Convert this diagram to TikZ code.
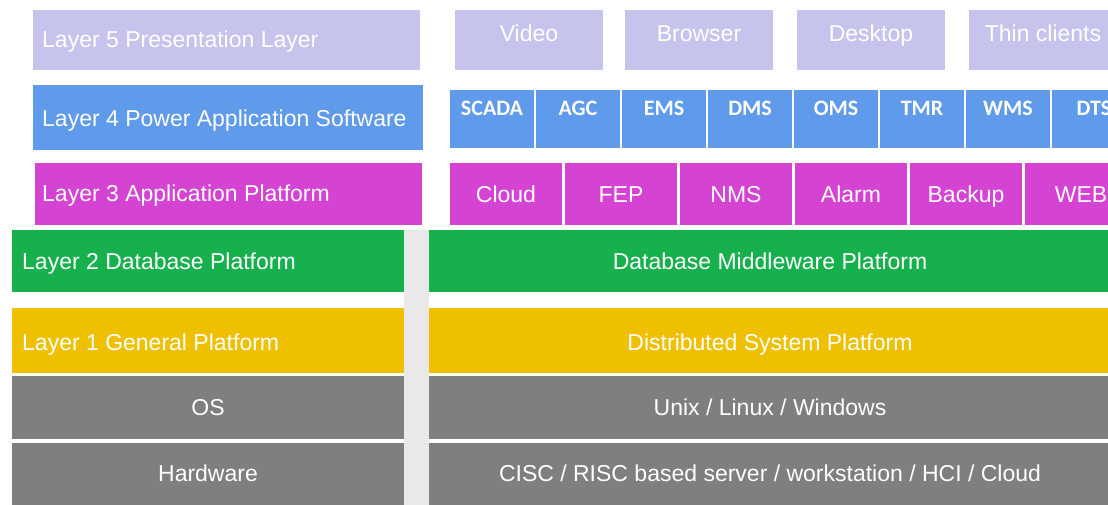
\documentclass[tikz,border=0pt]{standalone}
\usepackage{fontspec}
\setmainfont{Liberation Sans}
\newfontfamily\carlfont{Carlito}
\definecolor{lav}{HTML}{C6C3EC}
\definecolor{pblue}{HTML}{5F9BEA}
\definecolor{mag}{HTML}{D443D2}
\definecolor{dbgreen}{HTML}{16B04C}
\definecolor{ylw}{HTML}{EEC000}
\definecolor{gry}{HTML}{7F7F7F}
\definecolor{gapgray}{HTML}{E9E9E9}
\begin{document}
\begin{tikzpicture}[x=1pt,y=-1pt,
  blk/.style={draw=none,inner sep=0pt,outer sep=0pt,anchor=north west},
  lbl/.style={text=white,font=\fontsize{23}{27}\selectfont,inner sep=0pt,anchor=base},
  sml/.style={text=white,font=\carlfont\bfseries\fontsize{22}{25}\selectfont,inner sep=0pt,anchor=base}]
\useasboundingbox (0,0) rectangle (1108,505);
\fill[white] (0,0) rectangle (1108,505);
\fill[gapgray] (404,230) rectangle (429,505);
% Layer 5
\node[blk,fill=lav,minimum width=387pt,minimum height=60pt] (l5) at (33,10) {};
\node[lbl,anchor=base west] (t5) at (42,48) {Layer 5 Presentation Layer};
\foreach \x/\t [count=\i] in {455/Video,625/Browser,797/Desktop,969/Thin clients}{
  \node[blk,fill=lav,minimum width=148pt,minimum height=60pt] (r5-\i) at (\x,10) {};
  \node[lbl] (t5-\i) at (\x+74,42) {\t};
}
% Layer 4
\node[blk,fill=pblue,minimum width=390pt,minimum height=65pt] (l4) at (33,85) {};
\node[lbl,anchor=base west] (t4) at (42,127) {Layer 4 Power Application Software};
\foreach \t [count=\i from 0] in {SCADA,AGC,EMS,DMS,OMS,TMR,WMS,DTS}{
  \node[blk,fill=pblue,minimum width=84pt,minimum height=58pt] (r4-\i) at (450+86*\i,90) {};
  \node[sml] (t4-\i) at (450+86*\i+42,116) {\t};
}
% Layer 3
\node[blk,fill=mag,minimum width=387pt,minimum height=62pt] (l3) at (35,163) {};
\node[lbl,anchor=base west] (t3) at (42,202) {Layer 3 Application Platform};
\foreach \t [count=\i from 0] in {Cloud,FEP,NMS,Alarm,Backup,WEB}{
  \node[blk,fill=mag,minimum width=112pt,minimum height=62pt] (r3-\i) at (450+115*\i,163) {};
  \node[lbl] (t3-\i) at (450+115*\i+56,203) {\t};
}
% Layer 2
\node[blk,fill=dbgreen,minimum width=392pt,minimum height=62pt] (l2) at (12,230) {};
\node[lbl,anchor=base west] (t2) at (22,269) {Layer 2 Database Platform};
\node[blk,fill=dbgreen,minimum width=679pt,minimum height=62pt] (r2) at (429,230) {};
\node[lbl] (tr2) at (770,269) {Database Middleware Platform};
% Layer 1
\node[blk,fill=ylw,minimum width=392pt,minimum height=65pt] (l1) at (12,308) {};
\node[lbl,anchor=base west] (t1) at (22,350) {Layer 1 General Platform};
\node[blk,fill=ylw,minimum width=679pt,minimum height=65pt] (r1) at (429,308) {};
\node[lbl] (tr1) at (770,350) {Distributed System Platform};
% OS
\node[blk,fill=gry,minimum width=392pt,minimum height=63pt] (los) at (12,376) {};
\node[lbl] (tos) at (208,415) {OS};
\node[blk,fill=gry,minimum width=679pt,minimum height=63pt] (ros) at (429,376) {};
\node[lbl] (tros) at (770,415) {Unix / Linux / Windows};
% Hardware
\node[blk,fill=gry,minimum width=392pt,minimum height=62pt] (lhw) at (12,443) {};
\node[lbl] (thw) at (208,481) {Hardware};
\node[blk,fill=gry,minimum width=679pt,minimum height=62pt] (rhw) at (429,443) {};
\node[lbl] (trhw) at (770,481) {CISC / RISC based server / workstation / HCI / Cloud};
\end{tikzpicture}
\end{document}
